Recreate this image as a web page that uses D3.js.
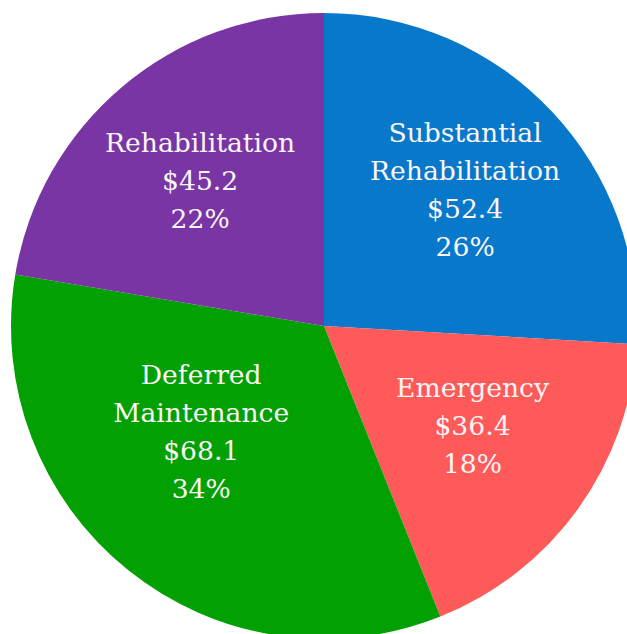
<!DOCTYPE html>
<html>
<head>
<meta charset="utf-8">
<script src="https://cdn.jsdelivr.net/npm/d3@7"></script>
<style>
  html, body { margin: 0; padding: 0; background: #fff; overflow: hidden; }
</style>
</head>
<body>
<div id="container"></div>
<script>
/* DATA */
const categories = ["Substantial Rehabilitation", "Emergency", "Deferred Maintenance", "Rehabilitation"];
const amounts = [52.4, 36.4, 68.1, 45.2];
const percentLabels = ["26%", "18%", "34%", "22%"];
const labelLines = [["Substantial", "Rehabilitation"], ["Emergency"], ["Deferred", "Maintenance"], ["Rehabilitation"]];

/* CONSTANTS */
const width = 627,
  height = 634,
  cx = 324,
  cy = 326,
  radius = 313,
  lineHeight = 38;

const colors = d3.scaleOrdinal()
  .domain(categories)
  .range(["#0878cb", "#ff5a5a", "#02a002", "#7a35a4"]);

// label placement tweaks (angle offset in degrees, radius as fraction of r)
const labelNudge = [[-0.6, 0.626], [-1.8, 0.572], [10.4, 0.518], [-0.2, 0.61]];

const rows = categories.map((c, i) => ({
  name: c, value: amounts[i], pct: percentLabels[i], lines: labelLines[i], nudge: labelNudge[i]
}));

const pie = d3.pie().sort(null).value(d => d.value);
const arc = d3.arc().innerRadius(0).outerRadius(radius);

const svg = d3.select("#container")
  .append("svg")
  .attr("width", width)
  .attr("height", height);

const g = svg.append("g").attr("transform", `translate(${cx},${cy})`);

g.selectAll("path")
  .data(pie(rows))
  .join("path")
  .attr("d", arc)
  .attr("fill", d => colors(d.data.name));

// labels
const labels = g.selectAll("text")
  .data(pie(rows))
  .join("text")
  .attr("transform", d => {
    const mid = (d.startAngle + d.endAngle) / 2 + d.data.nudge[0] * Math.PI / 180;
    const r = radius * d.data.nudge[1];
    return `translate(${r * Math.sin(mid)},${-r * Math.cos(mid)})`;
  })
  .attr("text-anchor", "middle")
  .attr("fill", "#fbf6f6")
  .style("font-family", "'DejaVu Serif', serif")
  .style("font-size", "26.6px");

labels.each(function(d) {
  const lines = d.data.lines.concat(["$" + d3.format(".1f")(d.data.value), d.data.pct]);
  const t = d3.select(this);
  lines.forEach((l, i) => {
    t.append("tspan")
      .attr("x", 0)
      .attr("y", (i - (lines.length - 1) / 2) * lineHeight)
      .attr("dy", "0.35em")
      .text(l);
  });
});
</script>
</body>
</html>
